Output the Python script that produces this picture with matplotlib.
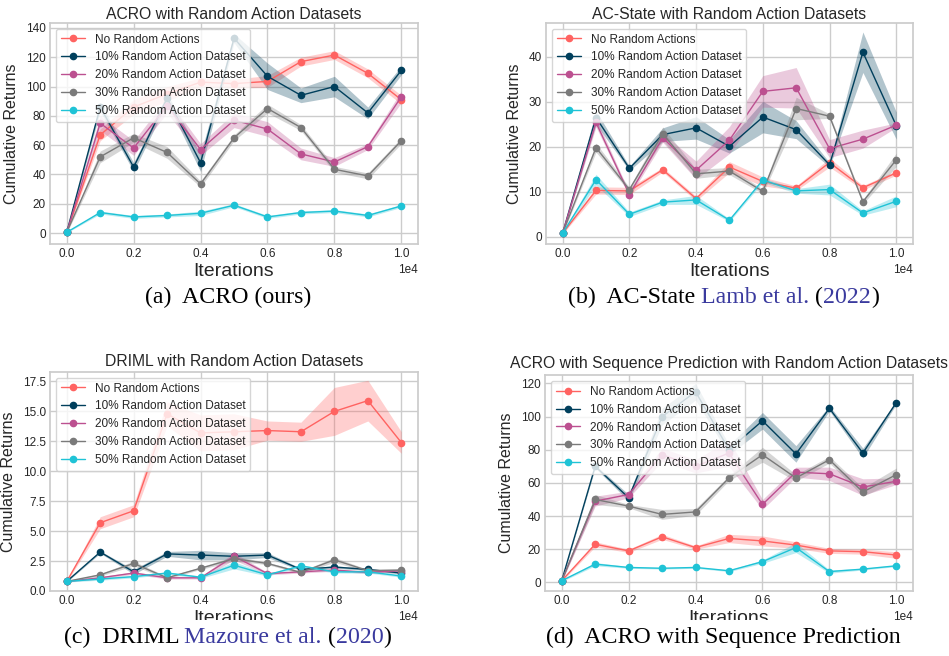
import numpy as np
import matplotlib
matplotlib.use("Agg")
import matplotlib.pyplot as plt
import seaborn as sns
from matplotlib.offsetbox import TextArea, HPacker, AnchoredOffsetbox
from matplotlib.transforms import Bbox

sns.set_theme(style="whitegrid")
plt.rcParams['font.family'] = ['Liberation Sans', 'DejaVu Sans']

iterations = np.arange(0, 11000, 1000)
labels = ["No Random Actions", "10% Random Action Dataset", "20% Random Action Dataset",
          "30% Random Action Dataset", "50% Random Action Dataset"]
colors = ["#ff6361", "#003f5c", "#bc5090", "#7a7a7a", "#1fc3d6"]

# (a) ACRO
acro_mean = [
    [0.5, 67, 86, 95, 103, 102, 103.5, 117, 121.5, 109, 91],
    [0.5, 86, 45, 92, 48, 133, 107, 94, 100, 82, 111],
    [0.5, 75, 58, 87, 57, 77, 71, 54, 48.5, 59, 93],
    [0.5, 52, 65, 55, 33.5, 65, 85, 72, 43.5, 39, 63],
    [0.5, 14, 11, 12, 13.5, 19, 11, 14, 15, 12, 18.5],
]
acro_err = [
    [0.5, 4, 5, 5, 3, 3, 4, 3, 3, 3, 3],
    [0.5, 3, 3, 3, 6, 3, 9, 5, 7, 4, 3],
    [0.5, 5, 5, 5, 4, 5, 5, 4, 3, 2, 4],
    [0.5, 4, 3, 4, 2, 2, 3, 2, 2, 2, 2],
    [0.3, 1, 1, 1, 1.5, 1, 1, 1, 1, 1, 1],
]

# (b) AC-State
acstate_mean = [
    [0.8, 10.3, 10.2, 14.9, 8.5, 15.5, 12.3, 10.8, 16.5, 10.9, 14.2],
    [0.8, 26.5, 15.2, 22.7, 24.2, 20.1, 26.6, 23.8, 16, 41, 24.7],
    [0.8, 25.4, 9.4, 22, 14.8, 21.5, 32.3, 33.1, 19.6, 21.7, 24.8],
    [0.8, 19.8, 10.5, 22.9, 14, 14.6, 10.1, 28.5, 26.8, 7.8, 17.1],
    [0.8, 12.7, 5, 7.7, 8.2, 3.7, 12.6, 10.2, 10.5, 5.3, 7.9],
]
acstate_err = [
    [0.2, 0.8, 0.8, 0.5, 0.5, 1.2, 1, 0.5, 1, 0.5, 0.5],
    [0.2, 1.5, 0.5, 1.5, 2.5, 1.5, 3.5, 2, 0.5, 4.5, 3],
    [0.2, 1, 0.5, 1, 2, 3, 3.5, 4.5, 2, 2, 0.5],
    [0.2, 1, 0.5, 1.5, 1, 0.8, 0.5, 2.5, 0.5, 0.5, 1.5],
    [0.2, 1.2, 0.5, 0.5, 1, 0.3, 0.5, 0.5, 1.2, 0.5, 1.2],
]

# (c) DRIML
driml_mean = [
    [0.8, 5.7, 6.7, 14.8, 13.2, 13.3, 13.4, 13.3, 15, 15.9, 12.4],
    [0.8, 3.25, 1.6, 3.1, 3.0, 2.9, 3.0, 1.8, 2.0, 1.8, 1.5],
    [0.8, 1.1, 1.5, 1.1, 1.1, 2.9, 1.45, 1.6, 1.75, 1.55, 1.7],
    [0.8, 1.35, 2.3, 1.1, 1.9, 2.7, 2.3, 1.55, 2.6, 1.7, 1.75],
    [0.8, 1.0, 1.2, 1.5, 1.15, 2.15, 1.35, 2.1, 1.6, 1.6, 1.25],
]
driml_err = [
    [0.05, 0.5, 0.5, 1, 1.5, 1.5, 0.8, 0.8, 2, 1.7, 0.9],
    [0.05, 0.1, 0.2, 0.2, 0.4, 0.3, 0.2, 0.1, 0.1, 0.1, 0.1],
    [0.05, 0.1, 0.1, 0.1, 0.1, 0.3, 0.1, 0.1, 0.1, 0.1, 0.1],
    [0.05, 0.1, 0.2, 0.1, 0.1, 0.2, 0.1, 0.1, 0.2, 0.1, 0.1],
    [0.05, 0.1, 0.1, 0.1, 0.1, 0.3, 0.1, 0.1, 0.1, 0.1, 0.1],
]

# (d) ACRO with sequence prediction
seq_mean = [
    [1, 23, 19, 27.5, 21, 26.5, 25, 22.5, 19, 18.5, 16.5],
    [1, 70, 51, 100, 115, 80, 97.5, 77.5, 105, 78, 108.5],
    [1, 49, 53, 77, 70, 78, 47, 66.5, 65.5, 57.5, 61],
    [1, 50, 46, 41, 42.5, 63, 77, 63, 74, 54.5, 65],
    [1, 11, 9, 8.5, 9, 7, 12.5, 21, 6.5, 8, 10],
]
seq_err = [
    [0.5, 1.5, 1, 1.5, 1, 2.5, 3, 2, 1.5, 1.5, 2],
    [0.5, 1, 2, 5, 5, 3, 5, 5, 1.5, 3, 1],
    [0.5, 3, 2, 4, 4, 8, 3, 3, 4, 5, 2],
    [0.5, 3, 1, 3, 2, 1.5, 4.5, 2, 2, 2.5, 4],
    [0.5, 1, 0.5, 0.5, 0.5, 0.5, 1, 3, 1, 0.5, 0.5],
]

# title, means, errors, ylim, axes rect, title pad
panels = [
    ("ACRO with Random Action Datasets", acro_mean, acro_err, (-7.5, 143.4),
     [0.0527, 0.628, 0.3878, 0.337], 2.5),
    ("AC-State with Random Action Datasets", acstate_mean, acstate_err, (-1.6, 47.5),
     [0.5753, 0.628, 0.3867, 0.337], 2.5),
    ("DRIML with Random Action Datasets", driml_mean, driml_err, (0.0, 18.3),
     [0.0527, 0.0991, 0.3878, 0.334], 4),
    ("ACRO with Sequence Prediction with Random Action Datasets", seq_mean, seq_err, (-5.2, 125),
     [0.5743, 0.0991, 0.3878, 0.329], 5.5),
]

fig = plt.figure(figsize=(9.49, 6.56), dpi=100)

for i, (title, means, errs, ylim, pos, tpad) in enumerate(panels):
    ax = fig.add_axes(pos)
    for m, e, c, lab in zip(means, errs, colors, labels):
        m = np.array(m)
        e = np.array(e)
        ax.fill_between(iterations, m - e, m + e, color=c, alpha=0.3, linewidth=0)
        ax.plot(iterations, m, color=c, marker='o', markersize=4.5, linewidth=1, label=lab)
    ax.set_ylim(*ylim)
    ax.set_title(title, fontsize=11.3, pad=tpad)
    xl = ax.set_xlabel("Iterations", fontsize=14, labelpad=2)
    ax.set_ylabel("Cumulative Returns", fontsize=11.5, labelpad=5)
    ax.tick_params(labelsize=8.5, pad=3, length=0)
    ax.ticklabel_format(axis='x', style='sci', scilimits=(0, 0))
    ax.xaxis.get_offset_text().set_fontsize(8.5)
    ax.legend(loc='upper left', fontsize=8.5, borderpad=0.4, labelspacing=0.5,
              handlelength=2.1)
    if i >= 2:
        # bottom row: x label is cut off by the caption area, as in the paper
        xl.set_clip_box(Bbox.from_extents(0, 36, 949, 656))
        xl.set_clip_on(True)

# captions in serif with coloured citations
cite = "#3a3a9e"
captions = [
    ([("(a)  ACRO (ours)", "black")], 0.240, 0.547),
    ([("(b)  AC-State ", "black"), ("Lamb et al.", cite), (" (", "black"),
      ("2022", cite), (")", "black")], 0.762, 0.547),
    ([("(c)  DRIML ", "black"), ("Mazoure et al.", cite), (" (", "black"),
      ("2020", cite), (")", "black")], 0.2397, 0.029),
    ([("(d)  ACRO with Sequence Prediction", "black")], 0.762, 0.029),
]
for parts, cx, cy in captions:
    areas = [TextArea(t, textprops=dict(color=c, fontsize=17.2, family='Liberation Serif'))
             for t, c in parts]
    box = HPacker(children=areas, align="baseline", pad=0, sep=0)
    anch = AnchoredOffsetbox(loc='center', child=box, frameon=False,
                             bbox_to_anchor=(cx, cy), bbox_transform=fig.transFigure,
                             borderpad=0, pad=0)
    fig.add_artist(anch)

fig.savefig("out.png", dpi=100)
